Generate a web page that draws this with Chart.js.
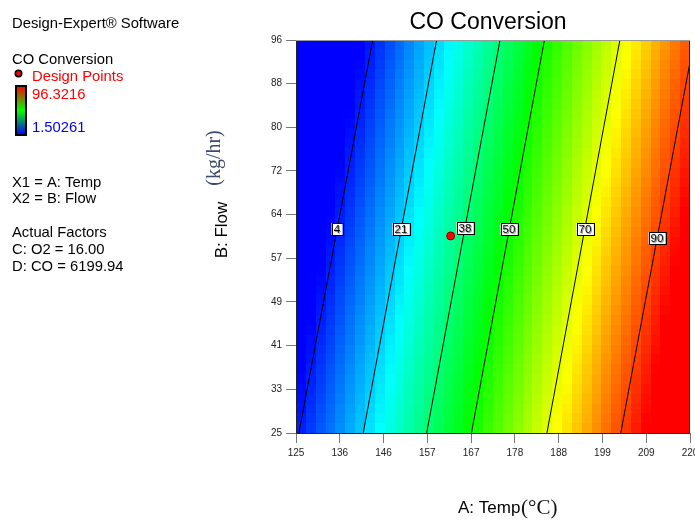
<!DOCTYPE html>
<html>
<head>
<meta charset="utf-8">
<script src="https://cdn.jsdelivr.net/npm/chart.js@4/dist/chart.umd.min.js"></script>
<style>
  html, body { margin: 0; padding: 0; background: #fff; }
  canvas { display: block; }
</style>
</head>
<body>
<canvas id="c" width="695" height="520"></canvas>
<script>
// Axis ranges and tick labels (A: Temp, B: Flow)
const tempRange = [125, 220];
const flowRange = [25, 96];
const xTickLabels = ['125', '136', '146', '157', '167', '178', '188', '199', '209', '220'];
const yTickLabels = ['25', '33', '41', '49', '57', '64', '72', '80', '88', '96'];

// Contour lines of CO Conversion: level, Temp where each crosses Flow = 25 and Flow = 96
const contourLevels = [4, 21, 38, 50, 70, 90];
const contourBottomX = [125.7, 141.2, 156.5, 167.3, 185.5, 203.3];
const contourTopX = [143.5, 158.9, 174.2, 184.9, 203.1, 221.0];
// Flow value at which each contour label sits
const contourLabelY = [61.9, 61.9, 62.1, 61.9, 61.9, 60.2];

// Design point (Temp, Flow)
const designPoints = [{ x: 162.3, y: 60.6 }];

// Response range shown on the colour key
const responseRange = [1.50261, 96.3216];

// Side panel text
const panelHeader = ['Design-Expert\u00AE Software', 'CO Conversion'];
const panelFactors = ['X1 = A: Temp', 'X2 = B: Flow'];
const panelActual = ['Actual Factors', 'C: O2 = 16.00', 'D: CO = 6199.94'];

const SANS = '"Liberation Sans", Arial, sans-serif';
const SERIF = '"Liberation Serif", "Times New Roman", serif';
const GRID_N = 40;

function contourXAt(k, flow) {
  const f = (flow - flowRange[0]) / (flowRange[1] - flowRange[0]);
  return contourBottomX[k] + (contourTopX[k] - contourBottomX[k]) * f;
}

// Response at (temp, flow)
function responseAt(temp, flow) {
  const xs = contourLevels.map((_, k) => contourXAt(k, flow));
  let k = 0;
  while (k < xs.length - 2 && temp > xs[k + 1]) k++;
  const v = contourLevels[k] + (contourLevels[k + 1] - contourLevels[k]) * (temp - xs[k]) / (xs[k + 1] - xs[k]);
  return Math.min(responseRange[1], Math.max(responseRange[0], v));
}

// Blue -> cyan -> green -> yellow -> red
function colourFor(v) {
  let t = (v - responseRange[0]) / (responseRange[1] - responseRange[0]);
  t = Math.min(1, Math.max(0, t)) * 4;
  const stops = [[0, 0, 255], [0, 255, 255], [0, 255, 0], [255, 255, 0], [255, 0, 0]];
  const i = Math.min(3, Math.floor(t));
  const u = t - i;
  const a = stops[i], b = stops[i + 1];
  const c = a.map((av, n) => Math.round(av + (b[n] - av) * u));
  return 'rgb(' + c.join(',') + ')';
}

const fieldPlugin = {
  id: 'responseField',
  beforeDatasetsDraw(chart) {
    const { ctx, scales: { x, y } } = chart;
    const dx = (tempRange[1] - tempRange[0]) / GRID_N;
    const dy = (flowRange[1] - flowRange[0]) / GRID_N;
    ctx.save();
    for (let i = 0; i < GRID_N; i++) {
      const x0 = Math.round(x.getPixelForValue(tempRange[0] + i * dx));
      const x1 = Math.round(x.getPixelForValue(tempRange[0] + (i + 1) * dx));
      for (let j = 0; j < GRID_N; j++) {
        const y0 = Math.round(y.getPixelForValue(flowRange[0] + j * dy));
        const y1 = Math.round(y.getPixelForValue(flowRange[0] + (j + 1) * dy));
        const v = responseAt(tempRange[0] + (i + 0.5) * dx, flowRange[0] + (j + 0.5) * dy);
        ctx.fillStyle = colourFor(v);
        ctx.fillRect(x0, y1, x1 - x0, y0 - y1);
      }
    }
    ctx.restore();
  },
  afterDatasetsDraw(chart) {
    const { ctx, chartArea: a, scales: { x, y } } = chart;
    ctx.save();
    // plot frame
    ctx.lineWidth = 1;
    ctx.strokeStyle = '#222';
    ctx.beginPath();
    ctx.moveTo(a.left + 0.5, a.top);
    ctx.lineTo(a.left + 0.5, a.bottom + 0.5);
    ctx.lineTo(a.right - 0.5, a.bottom + 0.5);
    ctx.lineTo(a.right - 0.5, a.top);
    ctx.stroke();
    ctx.strokeStyle = '#9a9a9a';
    ctx.beginPath();
    ctx.moveTo(a.left, a.top + 0.5);
    ctx.lineTo(a.right, a.top + 0.5);
    ctx.stroke();

    // contour labels
    ctx.font = '11.5px ' + SANS;
    ctx.textAlign = 'center';
    ctx.textBaseline = 'middle';
    contourLevels.forEach((lvl, k) => {
      const fy = contourLabelY[k];
      const px = Math.round(x.getPixelForValue(contourXAt(k, fy)));
      const py = Math.round(y.getPixelForValue(fy));
      const txt = String(lvl);
      const w = Math.ceil(ctx.measureText(txt).width) + 4;
      const h = 12;
      ctx.fillStyle = '#fff';
      ctx.fillRect(px - w / 2, py - h / 2, w, h);
      ctx.strokeStyle = '#000';
      ctx.strokeRect(Math.round(px - w / 2) + 0.5, py - h / 2 + 0.5, w, h);
      ctx.fillStyle = '#999';
      ctx.fillText(txt, px + 1, py + 1.5);
      ctx.fillStyle = '#000';
      ctx.fillText(txt, px, py + 0.5);
    });
    ctx.restore();
  },
  afterDraw(chart) {
    const { ctx } = chart;
    ctx.save();
    ctx.textAlign = 'left';
    ctx.textBaseline = 'alphabetic';
    ctx.font = '14.8px ' + SANS;
    ctx.fillStyle = '#000';
    ctx.fillText(panelHeader[0], 12, 28);
    ctx.fillText(panelHeader[1], 12, 64);

    // design point marker
    ctx.beginPath();
    ctx.arc(18.5, 73.5, 3.2, 0, Math.PI * 2);
    ctx.fillStyle = '#ff0000';
    ctx.fill();
    ctx.lineWidth = 1.6;
    ctx.strokeStyle = '#000';
    ctx.stroke();
    ctx.fillStyle = '#ff0000';
    ctx.fillText('Design Points', 32, 81);
    ctx.fillText(String(responseRange[1]), 32, 99);
    ctx.fillStyle = '#0000ff';
    ctx.fillText(String(responseRange[0]), 32, 132);

    // colour key
    const g = ctx.createLinearGradient(0, 86, 0, 135);
    g.addColorStop(0, '#ff0000');
    g.addColorStop(0.5, '#00ff00');
    g.addColorStop(1, '#0000ff');
    ctx.fillStyle = g;
    ctx.fillRect(16, 86, 10, 49);
    ctx.lineWidth = 2;
    ctx.strokeStyle = '#000';
    ctx.strokeRect(16, 86, 10, 49);

    ctx.fillStyle = '#000';
    ctx.fillText(panelFactors[0], 12, 187);
    ctx.fillText(panelFactors[1], 12, 203);
    ctx.fillText(panelActual[0], 12, 237);
    ctx.fillText(panelActual[1], 12, 254);
    ctx.fillText(panelActual[2], 12, 271);

    // chart title
    ctx.font = '23px ' + SANS;
    ctx.textAlign = 'center';
    ctx.fillText('CO Conversion', 488, 29);

    // x axis title
    ctx.textAlign = 'left';
    ctx.font = '17px ' + SANS;
    ctx.fillText('A: Temp', 458, 513);
    ctx.fillStyle = '#fff';
    ctx.fillRect(521, 496, 40, 24);
    ctx.fillStyle = '#111';
    ctx.font = '21px ' + SERIF;
    ctx.fillText('(\u00B0C)', 521, 514);

    // y axis title
    ctx.save();
    ctx.translate(227, 230);
    ctx.rotate(-Math.PI / 2);
    ctx.textAlign = 'center';
    ctx.font = '17px ' + SANS;
    ctx.fillStyle = '#000';
    ctx.fillText('B: Flow', 0, 0);
    ctx.restore();
    ctx.save();
    ctx.translate(220, 158);
    ctx.rotate(-Math.PI / 2);
    ctx.textAlign = 'center';
    ctx.font = '20px ' + SERIF;
    ctx.fillStyle = '#3c4a6e';
    ctx.fillText('(kg/hr)', 0, 0);
    ctx.restore();

    ctx.restore();
  }
};

const contourDatasets = contourLevels.map((lvl, k) => ({
  label: 'CO ' + lvl,
  data: [{ x: contourBottomX[k], y: flowRange[0] }, { x: contourTopX[k], y: flowRange[1] }],
  showLine: true,
  borderColor: '#000',
  borderWidth: 1,
  pointRadius: 0,
  clip: 0,
  order: 2
}));

new Chart(document.getElementById('c'), {
  type: 'scatter',
  data: {
    datasets: [
      ...contourDatasets,
      {
        label: 'Design Points',
        data: designPoints,
        showLine: false,
        pointRadius: 4,
        pointBackgroundColor: '#ff0000',
        pointBorderColor: '#7a0000',
        pointBorderWidth: 1,
        order: 1
      }
    ]
  },
  options: {
    responsive: false,
    devicePixelRatio: 1,
    animation: false,
    layout: { padding: { left: 0, right: 5, top: 40, bottom: 0 } },
    plugins: { legend: { display: false }, title: { display: false }, tooltip: { enabled: false } },
    scales: {
      x: {
        type: 'linear',
        min: tempRange[0],
        max: tempRange[1],
        afterBuildTicks: s => { s.ticks = xTickLabels.map((_, i) => ({ value: tempRange[0] + i * (tempRange[1] - tempRange[0]) / (xTickLabels.length - 1) })); },
        afterFit: s => { s.height = 87; s.paddingLeft = 0; s.paddingRight = 0; },
        ticks: {
          callback: (v, i) => xTickLabels[i],
          autoSkip: false, maxRotation: 0, minRotation: 0,
          font: { size: 10, family: SANS }, color: '#222', padding: 4
        },
        grid: { drawOnChartArea: false, tickLength: 10, color: '#777', tickColor: '#777' },
        border: { display: false }
      },
      y: {
        type: 'linear',
        min: flowRange[0],
        max: flowRange[1],
        afterBuildTicks: s => { s.ticks = yTickLabels.map((_, i) => ({ value: flowRange[0] + i * (flowRange[1] - flowRange[0]) / (yTickLabels.length - 1) })); },
        afterFit: s => { s.width = 296; s.paddingTop = 0; s.paddingBottom = 0; },
        ticks: {
          callback: (v, i) => yTickLabels[i],
          autoSkip: false,
          font: { size: 10, family: SANS }, color: '#222', padding: 4
        },
        grid: { drawOnChartArea: false, tickLength: 10, color: '#777', tickColor: '#777' },
        border: { display: false }
      }
    }
  },
  plugins: [fieldPlugin]
});
</script>
</body>
</html>
